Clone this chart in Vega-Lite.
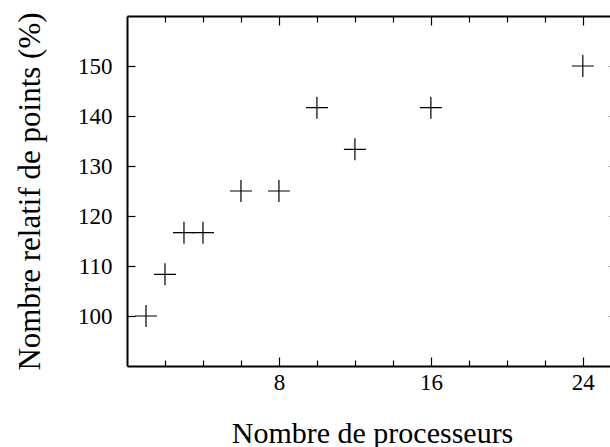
{
  "$schema": "https://vega.github.io/schema/vega-lite/v6.json",
  "autosize": {"type": "none"},
  "padding": {"left": 127, "top": 16, "right": 0, "bottom": 81},
  "width": 490,
  "height": 350,
  "background": "white",
  "config": {
    "view": {"stroke": null},
    "axis": {
      "domainColor": "black",
      "domainWidth": 2,
      "tickColor": "black",
      "tickWidth": 1.2,
      "grid": false,
      "labelFont": "Liberation Serif",
      "labelFontSize": 23,
      "labelColor": "black",
      "titleFont": "Liberation Serif",
      "titleFontSize": 30,
      "titleFontWeight": "normal",
      "titleColor": "black"
    }
  },
  "data": {
    "values": [
      {"procs": 1, "pct": 100},
      {"procs": 2, "pct": 108.33},
      {"procs": 3, "pct": 116.67},
      {"procs": 4, "pct": 116.67},
      {"procs": 6, "pct": 125},
      {"procs": 8, "pct": 125},
      {"procs": 10, "pct": 141.67},
      {"procs": 12, "pct": 133.33},
      {"procs": 16, "pct": 141.67},
      {"procs": 24, "pct": 150}
    ]
  },
  "resolve": {"axis": {"x": "independent", "y": "independent"}},
  "layer": [
    {
      "mark": {"type": "point", "shape": "M-1,0L1,0M0,-1L0,1", "filled": false, "stroke": "black", "strokeWidth": 1.2, "size": 484, "opacity": 1},
      "encoding": {
        "x": {
          "field": "procs", "type": "quantitative",
          "scale": {"domain": [0, 25.8], "nice": false, "zero": false},
          "axis": {
            "orient": "bottom",
            "values": [2, 4, 6, 8, 10, 12, 14, 16, 18, 20, 22, 24],
            "labelExpr": "datum.value % 8 == 0 ? datum.label : ''",
            "tickSize": {"condition": {"test": "datum.value % 8 == 0", "value": -9}, "value": -6},
            "labelPadding": 14,
            "title": "Nombre de processeurs",
            "titleX": 245,
            "titleY": 76,
            "titleBaseline": "alphabetic",
            "titleAnchor": "middle"
          }
        },
        "y": {
          "field": "pct", "type": "quantitative",
          "scale": {"domain": [90, 160], "nice": false, "zero": false},
          "axis": {
            "orient": "left",
            "values": [100, 110, 120, 130, 140, 150],
            "tickSize": -8,
            "labelPadding": 23,
            "title": "Nombre relatif de points (%)",
            "titleFontSize": 31,
            "titleAngle": -90,
            "titleX": -88,
            "titleY": 175,
            "titleAlign": "center",
            "titleBaseline": "alphabetic"
          }
        }
      }
    },
    {
      "mark": {"type": "point", "opacity": 0},
      "encoding": {
        "x": {
          "field": "procs", "type": "quantitative",
          "axis": {
            "orient": "top",
            "values": [2, 4, 6, 8, 10, 12, 14, 16, 18, 20, 22, 24],
            "labels": false,
            "tickSize": {"condition": {"test": "datum.value % 8 == 0", "value": -9}, "value": -6},
            "title": null
          }
        },
        "y": {
          "field": "pct", "type": "quantitative",
          "axis": {
            "orient": "right",
            "values": [100, 110, 120, 130, 140, 150],
            "labels": false,
            "tickSize": -8,
            "title": null
          }
        }
      }
    }
  ]
}
